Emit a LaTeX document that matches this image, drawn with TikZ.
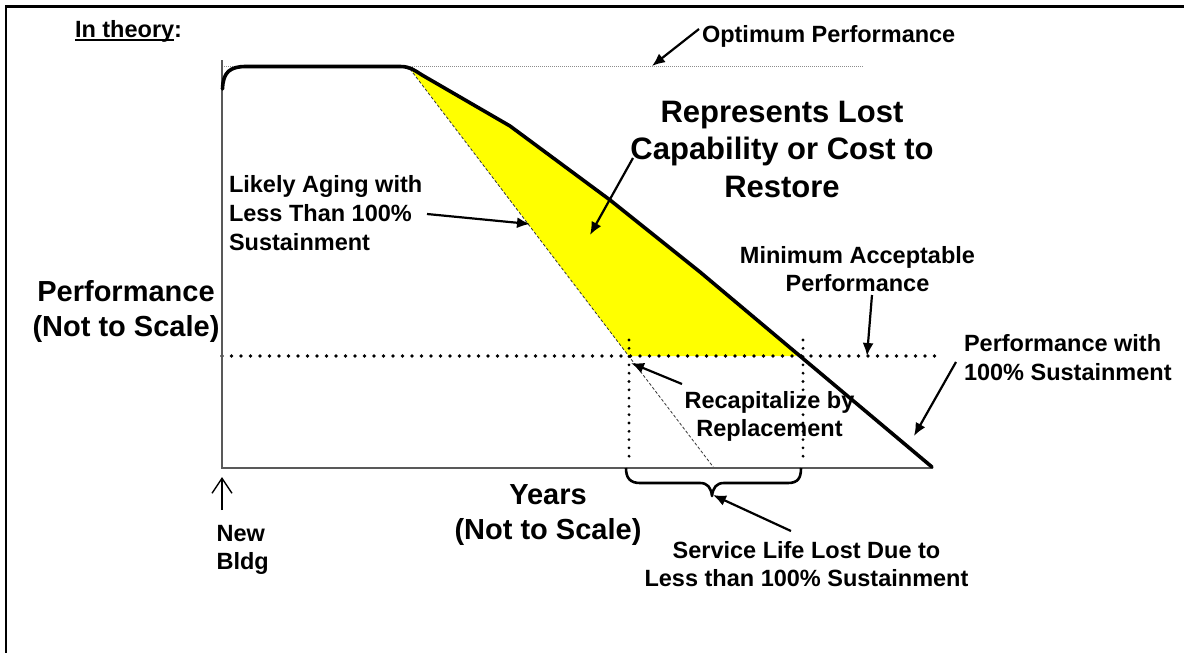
\documentclass[tikz,border=0pt]{standalone}
\usepackage{fontspec}
\setmainfont{Liberation Sans}
\usetikzlibrary{arrows.meta}
\definecolor{fillyellow}{RGB}{255,255,0}
\newcommand\fsmall{\fontsize{23.5}{28.7}\selectfont\bfseries}
\newcommand\fbig{\fontsize{31}{37.5}\selectfont\bfseries}
\newcommand\fmid{\fontsize{29}{35.5}\selectfont\bfseries}
\tikzset{
  lab/.style={inner sep=0pt, outer sep=0pt},
  arr/.style={line width=2.2pt, -{Latex[length=13pt,width=11pt]}},
  openarr/.style={line width=1.4pt, -{Straight Barb[length=15pt,width=20pt]}},
  curve/.style={line width=3.6pt, line join=round, line cap=round},
  axisline/.style={line width=1.3pt, black!65},
  optline/.style={line width=0.8pt, black!45, dash pattern=on 1pt off 1pt},
  agingline/.style={line width=0.8pt, black!80, dash pattern=on 3pt off 2pt},
  minline/.style={line width=3.7pt, dash pattern=on 0pt off 9.5pt, line cap=round},
  vdots/.style={line width=3.1pt, dash pattern=on 0pt off 8.3pt, line cap=round},
  bracestyle/.style={line width=2.6pt, line join=round},
  frame/.style={line width=2.6pt}
}
\begin{document}
\begin{tikzpicture}[x=1pt,y=-1pt]
\useasboundingbox (0,0) rectangle (1184,653);
% frame
\draw[frame] (6,653) -- (6,6.5) -- (1184,6.5);

% key points
\coordinate (O) at (222,468);
\coordinate (ytop) at (222,60);
\coordinate (xend) at (933,468);
\coordinate (optL) at (222,66);
\coordinate (optR) at (863,66);
\coordinate (minL) at (222,356);
\coordinate (minR) at (935,356);
\coordinate (ageS) at (410,69);
\coordinate (ageE) at (714,468);
\coordinate (vl1) at (629,340);
\coordinate (vl2) at (629,462);
\coordinate (vr1) at (803,340);
\coordinate (vr2) at (803,462);

% yellow region
\fill[fillyellow] (411,70) -- (422,75) -- (510,126) -- (610,200) -- (700,272) -- (800,356) -- (628.7,356) -- cycle;

% optimum line
\draw[optline] (optL) -- (optR);
% aging line
\draw[agingline] (ageS) -- (ageE);
% minimum acceptable line
\draw[minline] (minL) -- (minR);
% vertical dotted lines
\draw[vdots] (vl1) -- (vl2);
\draw[vdots] (vr1) -- (vr2);
% axes
\draw[axisline] (ytop) -- (O) -- (xend);
% performance curve
\draw[curve] (222.5,89) .. controls (223,72) and (230,66.5) .. (246,66.5) -- (400,66.5) .. controls (410,66.5) and (414,70) .. (422,75) -- (510,126) -- (610,200) -- (700,272) -- (932,467);

% brace
\draw[bracestyle] (626,468) .. controls (626,478) and (630,483) .. (640,483) -- (700,483) .. controls (708,483) and (711,488) .. (712,496) .. controls (713,488) and (716,483) .. (724,483) -- (788,483) .. controls (798,483) and (801,478) .. (801,468);

% texts
\node[lab, anchor=base west] (th) at (75,37) {\fsmall In theory};
\node[lab, anchor=base west] (thc) at (th.base east) {\fsmall :};
\draw[line width=1.7pt] ([yshift=-3pt]th.base west) -- ([yshift=-3pt]th.base east);

\node[lab, anchor=base west] (opt) at (702,42) {\fsmall Optimum Performance};
\node[lab, anchor=base] (rep) at (782,122) {\fbig\begin{tabular}[t]{@{}c@{}}Represents Lost\\Capability or Cost to\\Restore\end{tabular}};
\node[lab, anchor=base west] (likely) at (229,192.7) {\fsmall\begin{tabular}[t]{@{}l@{}}Likely Aging with\\Less Than 100\%\\Sustainment\end{tabular}};
\node[lab, anchor=base] (minacc) at (857.5,263) {\fsmall\begin{tabular}[t]{@{}c@{}}Minimum Acceptable\\Performance\end{tabular}};
\node[lab, anchor=base west] (perf100) at (964,351.7) {\fsmall\begin{tabular}[t]{@{}l@{}}Performance with\\100\% Sustainment\end{tabular}};
\node[lab, anchor=base] (recap) at (769.5,408) {\fsmall\begin{tabular}[t]{@{}c@{}}Recapitalize by\\Replacement\end{tabular}};
\node[lab, anchor=base] (svc) at (806.5,558) {\fsmall\begin{tabular}[t]{@{}c@{}}Service Life Lost Due to\\Less than 100\% Sustainment\end{tabular}};
\node[lab, anchor=base west] (newb) at (216.6,541) {\fsmall\begin{tabular}[t]{@{}l@{}}New\\Bldg\end{tabular}};
\node[lab, anchor=base] (years) at (548,504) {\fmid\begin{tabular}[t]{@{}c@{}}Years\\(Not to Scale)\end{tabular}};
\node[lab, anchor=base] (perfax) at (126,301) {\fmid\begin{tabular}[t]{@{}c@{}}Performance\\(Not to Scale)\end{tabular}};

% arrows
\coordinate (a1s) at (699,29);  \coordinate (a1e) at (652,66);
\coordinate (a2s) at (633,158); \coordinate (a2e) at (590,235);
\coordinate (a3s) at (427,214); \coordinate (a3e) at (530,224);
\coordinate (a4s) at (872,295); \coordinate (a4e) at (867,356);
\coordinate (a5s) at (956,362); \coordinate (a5e) at (914,436);
\coordinate (a6s) at (682,384); \coordinate (a6e) at (631,363);
\coordinate (a7s) at (791,531); \coordinate (a7e) at (713,495);
\coordinate (a8s) at (222,510); \coordinate (a8e) at (222,477);
\draw[arr] (a1s) -- (a1e);
\draw[arr] (a2s) -- (a2e);
\draw[arr] (a3s) -- (a3e);
\draw[arr] (a4s) -- (a4e);
\draw[arr] (a5s) -- (a5e);
\draw[arr] (a6s) -- (a6e);
\draw[arr] (a7s) -- (a7e);
\draw[openarr] (a8s) -- (a8e);
\end{tikzpicture}
\end{document}
